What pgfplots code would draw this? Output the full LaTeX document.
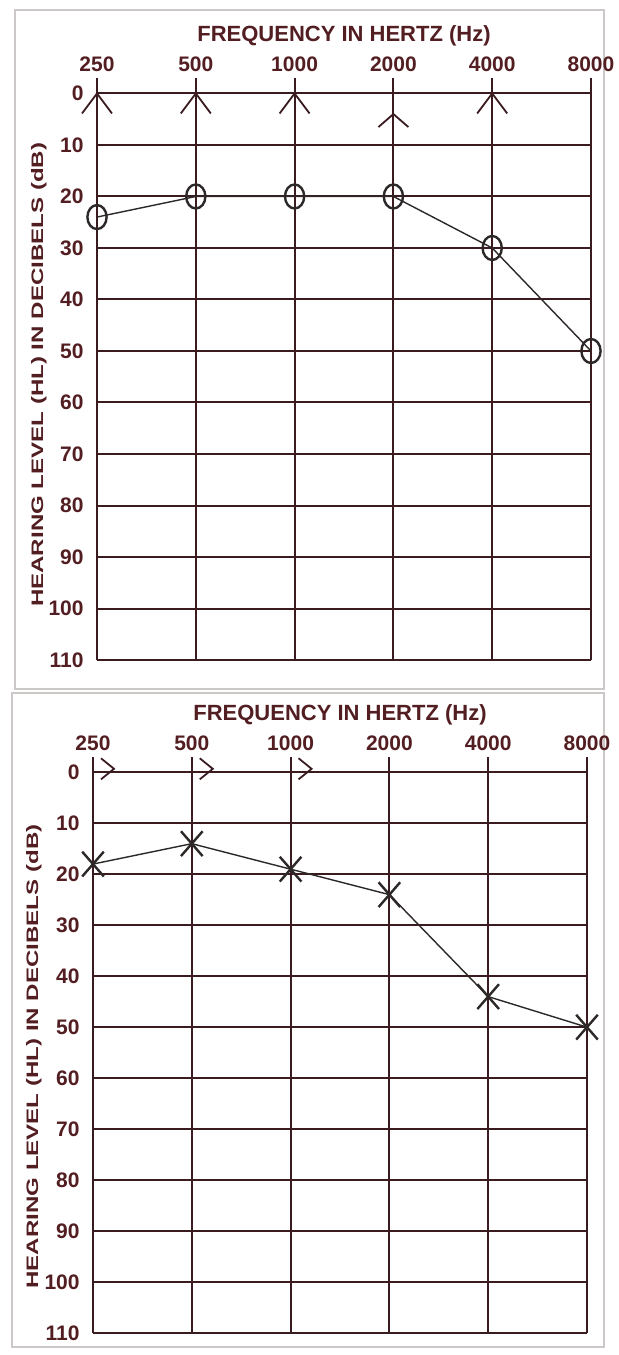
\documentclass[border=0pt]{standalone}
\usepackage{fontspec}
\setmainfont{Liberation Sans}
\newfontfamily\labfont[FakeStretch=1.45]{Liberation Sans}
\usepackage{pgfplots}
\pgfplotsset{compat=1.18}

\definecolor{gridc}{RGB}{58,28,32}
\definecolor{txtc}{RGB}{82,30,34}
\definecolor{datac}{RGB}{45,40,40}
\definecolor{framec}{RGB}{205,200,200}

\pgfdeclareplotmark{ovalO}{\pgfpathellipse{\pgfpointorigin}{\pgfpoint{4.8pt}{0pt}}{\pgfpoint{0pt}{6pt}}\pgfusepathqstroke}
\pgfdeclareplotmark{bigX}{\pgfpathmoveto{\pgfpoint{-5.4pt}{-6.2pt}}\pgfpathlineto{\pgfpoint{5.4pt}{6.2pt}}\pgfpathmoveto{\pgfpoint{-5.4pt}{6.2pt}}\pgfpathlineto{\pgfpoint{5.4pt}{-6.2pt}}\pgfusepathqstroke}
\pgfdeclareplotmark{caret}{\pgfpathmoveto{\pgfpoint{-7.5pt}{-10pt}}\pgfpathlineto{\pgfpointorigin}\pgfpathlineto{\pgfpoint{7.5pt}{-10pt}}\pgfusepathqstroke}
\pgfdeclareplotmark{caretsmall}{\pgfpathmoveto{\pgfpoint{-7.5pt}{-6.5pt}}\pgfpathlineto{\pgfpointorigin}\pgfpathlineto{\pgfpoint{7.5pt}{-6.5pt}}\pgfusepathqstroke}
\pgfdeclareplotmark{gtright}{\pgfpathmoveto{\pgfpoint{4pt}{7pt}}\pgfpathlineto{\pgfpoint{10.5pt}{1.75pt}}\pgfpathlineto{\pgfpoint{4pt}{-3.5pt}}\pgfusepathqstroke}

\pgfplotsset{audio/.style={
  scale only axis, width=247pt,
  xmin=0, xmax=5, ymin=-3, ymax=110, y dir=reverse,
  axis line style={draw=none},
  xtick={0,...,5}, xticklabels={250,500,1000,2000,4000,8000},
  ytick={0,10,...,110},
  xticklabel pos=upper,
  tick style={draw=none}, major tick length=0pt,
  grid=major, grid style={gridc, line width=1pt},
  /pgf/number format/assume math mode=true,
  ticklabel style={font=\bfseries\fontsize{10.5}{11}\selectfont, text=txtc},
  xticklabel style={anchor=south, inner sep=0pt, yshift=3pt},
  yticklabel style={anchor=east, inner sep=0pt, xshift=-6.5pt},
  title={FREQUENCY IN HERTZ (Hz)},
  title style={font=\bfseries\fontsize{11}{12}\selectfont, text=txtc, at={(0.5,1)}, anchor=center, yshift=15pt, inner sep=0pt},
  ylabel={HEARING LEVEL (HL) IN DECIBELS (dB)},
  ylabel style={font=\labfont\bfseries\fontsize{8.3}{10}\selectfont, text=txtc, anchor=center, inner sep=0pt},
  clip=false,
}}

\begin{document}
\begin{tikzpicture}
\useasboundingbox (0,0) rectangle (309pt,-677.5pt);
\fill[white] (0,0) rectangle (309pt,-677.5pt);
\draw[framec, line width=0.6pt] (7.5pt,-5pt) rectangle (302pt,-344.5pt);
\draw[framec, line width=0.6pt] (6pt,-346.5pt) rectangle (302pt,-673.5pt);

\begin{axis}[audio, height=291pt, at={(48.5pt,-330pt)}, anchor=south west,
  ylabel style={at={(axis description cs:-0.118,0.49)}}]
\addplot[datac, line width=0.7pt, mark=ovalO, mark options={line width=1.2pt, solid}]
  coordinates {(0,24) (1,20) (2,20) (3,20) (4,30) (5,50)};
\addplot[only marks, mark=caret, mark options={gridc, line width=0.9pt}]
  coordinates {(0,0) (1,0) (2,0) (4,0)};
\addplot[only marks, mark=caretsmall, mark options={gridc, line width=0.9pt}]
  coordinates {(3,4)};
\end{axis}

\begin{axis}[audio, height=288pt, at={(46.5pt,-666.5pt)}, anchor=south west,
  ylabel style={at={(axis description cs:-0.12,0.48)}}]
\addplot[datac, line width=0.7pt, mark=bigX, mark options={line width=1.2pt, solid}]
  coordinates {(0,18) (1,14) (2,19) (3,24) (4,44) (5,50)};
\addplot[only marks, mark=gtright, mark options={gridc, line width=0.9pt}]
  coordinates {(0,0) (1,0) (2,0)};
\end{axis}
\end{tikzpicture}
\end{document}
